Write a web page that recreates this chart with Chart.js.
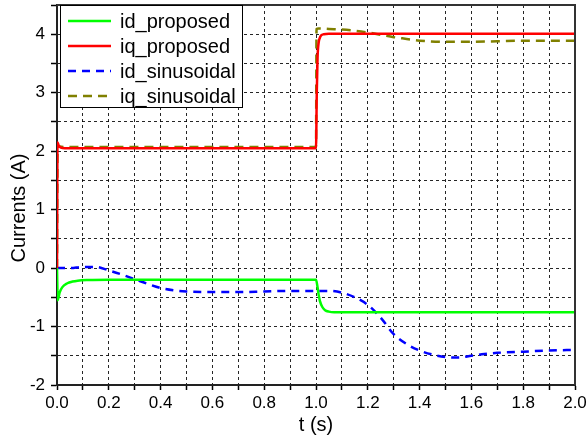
<!DOCTYPE html>
<html>
<head>
<meta charset="utf-8">
<script src="https://cdn.jsdelivr.net/npm/chart.js@4/dist/chart.umd.min.js"></script>
<style>
  html, body { margin: 0; padding: 0; background: #fff; }
  #wrap { width: 587px; height: 441px; }
</style>
</head>
<body>
<div id="wrap"><canvas id="myChart" width="587" height="441"></canvas></div>
<script>
// values
const tIdProposed = [0, 0.003, 0.01, 0.02, 0.04, 0.06, 0.08, 0.12, 0.2, 1.0, 1.005, 1.01, 1.015, 1.025, 1.035, 1.05, 1.07, 2.0];
const idProposed  = [0, -0.55, -0.42, -0.33, -0.26, -0.23, -0.215, -0.205, -0.2, -0.2, -0.3, -0.45, -0.56, -0.67, -0.72, -0.745, -0.755, -0.755];

const tIqProposed = [0, 0.002, 0.006, 0.015, 0.03, 1.0, 1.003, 1.006, 1.01, 1.015, 1.02, 1.03, 1.05, 2.0];
const iqProposed  = [0, 2.15, 2.1, 2.06, 2.05, 2.05, 3.0, 3.6, 3.85, 3.94, 3.98, 4.0, 4.01, 4.01];

const tIdSin = [0, 0.05, 0.1, 0.15, 0.2, 0.25, 0.3, 0.35, 0.4, 0.45, 0.5, 0.6, 0.7, 0.8, 0.9, 1.0, 1.05, 1.1, 1.15, 1.2, 1.25, 1.3, 1.35, 1.4, 1.45, 1.5, 1.55, 1.6, 1.65, 1.7, 1.8, 1.9, 2.0];
const idSin  = [0, 0.0, 0.02, 0.02, -0.04, -0.11, -0.19, -0.27, -0.34, -0.38, -0.4, -0.41, -0.41, -0.4, -0.39, -0.39, -0.39, -0.42, -0.5, -0.63, -0.85, -1.13, -1.3, -1.41, -1.48, -1.52, -1.53, -1.5, -1.47, -1.45, -1.43, -1.41, -1.4];

const tIqSin = [0, 0.002, 0.01, 0.05, 1.0, 1.002, 1.01, 1.05, 1.1, 1.15, 1.2, 1.25, 1.3, 1.35, 1.4, 1.5, 1.6, 1.7, 1.8, 2.0];
const iqSin  = [0, 2.1, 2.08, 2.07, 2.07, 4.09, 4.1, 4.09, 4.08, 4.06, 4.03, 3.99, 3.95, 3.92, 3.89, 3.87, 3.87, 3.88, 3.89, 3.89];

const seriesLabels = ['id_proposed', 'iq_proposed', 'id_sinusoidal', 'iq_sinusoidal'];
const yTitle = 'Currents (A)';

const pts = (t, v) => t.map((x, i) => ({ x: x, y: v[i] }));

const FONT = 'Arial, "Liberation Sans", sans-serif';

// legend drawn inside the plot box, top/right frame, y title
const boxPlugin = {
  id: 'boxPlugin',
  afterDatasetsDraw(chart) {
    const ctx = chart.ctx;
    const a = chart.chartArea;
    ctx.save();
    ctx.strokeStyle = '#333';
    ctx.lineWidth = 2;
    ctx.setLineDash([]);
    ctx.beginPath();
    ctx.moveTo(a.left, a.top);
    ctx.lineTo(a.right, a.top);
    ctx.lineTo(a.right, a.bottom);
    ctx.stroke();

    const lx = 60, ly = 5, lw = 182, lh = 102;
    ctx.fillStyle = '#fff';
    ctx.fillRect(lx, ly, lw, lh);
    ctx.strokeStyle = '#000';
    ctx.lineWidth = 1;
    ctx.strokeRect(lx + 0.5, ly + 0.5, lw, lh);

    ctx.font = '20px ' + FONT;
    ctx.textAlign = 'left';
    ctx.textBaseline = 'middle';
    chart.data.datasets.forEach((ds, i) => {
      const y = 21 + i * 25;
      ctx.strokeStyle = ds.borderColor;
      ctx.lineWidth = 2.5;
      ctx.setLineDash(ds.borderDash || []);
      ctx.beginPath();
      ctx.moveTo(68, y);
      ctx.lineTo(111, y);
      ctx.stroke();
      ctx.setLineDash([]);
      ctx.fillStyle = '#000';
      ctx.fillText(ds.label, 120, y + 1);
    });

    ctx.translate(19, 208);
    ctx.rotate(-Math.PI / 2);
    ctx.textAlign = 'center';
    ctx.fillText(yTitle, 0, 0);
    ctx.restore();
  }
};

const ctx = document.getElementById('myChart').getContext('2d');
new Chart(ctx, {
  type: 'line',
  data: {
    datasets: [
      { label: seriesLabels[0], data: pts(tIdProposed, idProposed), borderColor: '#00ff00', borderWidth: 2.5 },
      { label: seriesLabels[1], data: pts(tIqProposed, iqProposed), borderColor: '#ff0000', borderWidth: 2.5 },
      { label: seriesLabels[2], data: pts(tIdSin, idSin), borderColor: '#0000ff', borderWidth: 2.5, borderDash: [8, 6] },
      { label: seriesLabels[3], data: pts(tIqSin, iqSin), borderColor: '#808000', borderWidth: 2.5, borderDash: [9, 6] }
    ]
  },
  options: {
    responsive: false,
    animation: false,
    layout: { padding: { top: 5, right: 12, left: 0, bottom: 0 } },
    elements: {
      point: { radius: 0 },
      line: { cubicInterpolationMode: 'monotone', fill: false }
    },
    plugins: {
      legend: { display: false },
      tooltip: { enabled: false }
    },
    scales: {
      x: {
        type: 'linear',
        min: 0,
        max: 2,
        afterFit: (s) => { s.height = 56; s.paddingLeft = 0; s.paddingRight = 0; },
        ticks: {
          stepSize: 0.1,
          autoSkip: false,
          maxRotation: 0,
          padding: 3,
          color: '#000',
          font: { family: FONT, size: 17 },
          callback: (v) => (Math.round(v * 10) % 2 === 0 ? v.toFixed(1) : '')
        },
        grid: {
          color: 'rgba(0,0,0,0.85)',
          lineWidth: 1,
          tickLength: 5,
          tickColor: '#000',
          tickWidth: 1.5,
          tickBorderDash: []
        },
        border: { display: true, color: '#222', width: 2, dash: [3, 3] },
        title: {
          display: true,
          text: 't (s)',
          color: '#000',
          font: { family: FONT, size: 20 },
          padding: { top: 0, bottom: 4 }
        }
      },
      y: {
        type: 'linear',
        min: -2,
        max: 4.5,
        afterFit: (s) => { s.width = 57; s.paddingTop = 0; s.paddingBottom = 0; },
        ticks: {
          stepSize: 0.5,
          autoSkip: false,
          padding: 6,
          color: '#000',
          font: { family: FONT, size: 17 },
          callback: (v) => (Number.isInteger(v) ? String(v) : '')
        },
        grid: {
          color: 'rgba(0,0,0,0.85)',
          lineWidth: 1,
          tickLength: 6,
          tickColor: '#000',
          tickWidth: 1.5,
          tickBorderDash: []
        },
        border: { display: true, color: '#222', width: 2, dash: [3, 3] }
      }
    }
  },
  plugins: [boxPlugin]
});
</script>
</body>
</html>
